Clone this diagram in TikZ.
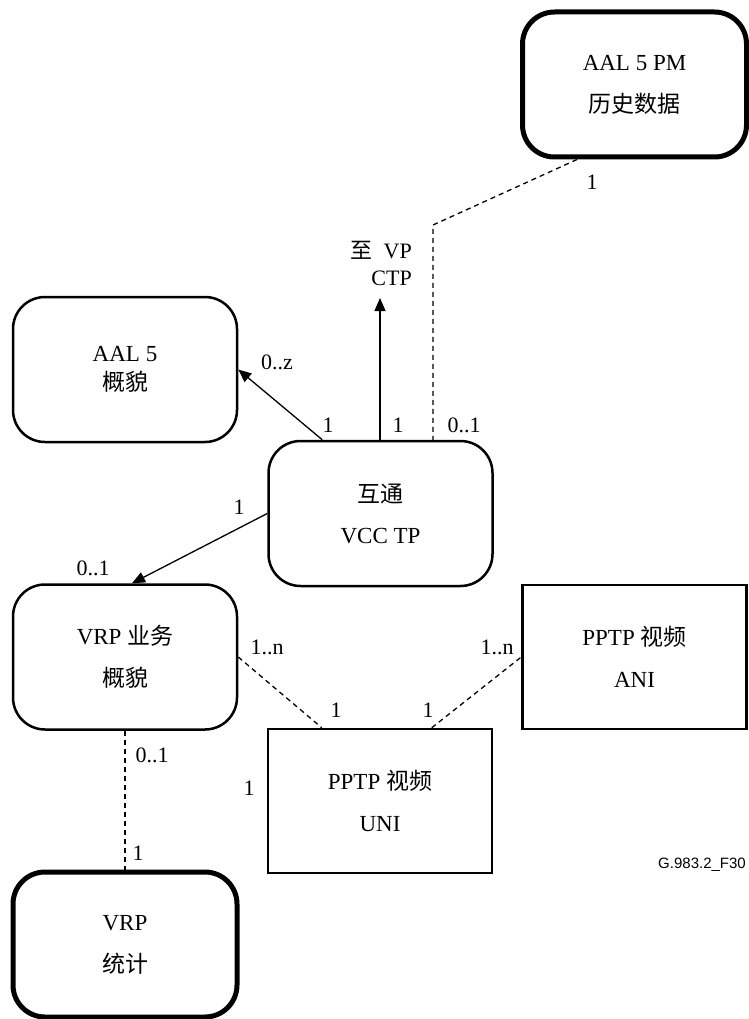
\documentclass[tikz,border=0pt]{standalone}
\usepackage{fontspec}
\setmainfont{Liberation Serif}
\setsansfont{Liberation Sans}
\newfontfamily\cjk{Noto Sans CJK SC}
\usetikzlibrary{arrows.meta,calc}
\begin{document}
\begin{tikzpicture}[x=1pt,y=-1pt,
  every node/.style={inner sep=0pt},
  boxtext/.style={font=\fontsize{23}{25}\selectfont, align=center},
  objbox/.style={boxtext, draw, line width=2.5pt, rounded corners=32pt,
    minimum width=224pt, minimum height=145pt},
  heavybox/.style={objbox, line width=5pt},
  plainbox/.style={boxtext, draw, line width=2.5pt,
    minimum width=224pt, minimum height=144pt},
  link/.style={line width=1.3pt},
  dlink/.style={line width=1.3pt, dash pattern=on 5pt off 4pt},
  tip/.style={-{Triangle[length=13pt,width=11pt]}},
  mult/.style={font=\fontsize{22}{25}\selectfont}]

\useasboundingbox (0,0) rectangle (748,1019);

% managed entities
\node[heavybox] (pm)    at (634.5,84.5) {AAL 5 PM\\[17pt]{\cjk 历史数据}};
\node[objbox]   (aal)   at (125,369.5)  {AAL 5\\[4pt]{\cjk 概貌}};
\node[objbox]   (vcc)   at (380.5,513.5){{\cjk 互通}\\[16pt]VCC TP};
\node[objbox]   (vrp)   at (125,657)    {VRP {\cjk 业务}\\[17pt]{\cjk 概貌}};
\node[plainbox] (ani)   at (634.5,657)  {PPTP {\cjk 视频}\\[17pt]ANI};
\node[plainbox] (uni)   at (380,801)    {PPTP {\cjk 视频}\\[17pt]UNI};
\node[heavybox] (stats) at (125,944.5)  {VRP\\[17pt]{\cjk 统计}};

% relationship end points
\coordinate (bend)  at (433,225);
\coordinate (vpend) at (380,298);

% relationships
\draw[dlink] ($(pm.south west)+(57,0)$) -- (bend) -- (bend |- vcc.north);
\draw[link,tip] (vpend |- vcc.north) -- (vpend);
\draw[link,tip] ($(vcc.north west)+(55,0)$) -- (aal.east);
\draw[link,tip] (vcc.west) -- ($(vrp.north)+(7,0)$);
\draw[dlink] (vrp.east) -- ($(uni.north west)+(55,0)$);
\draw[dlink] ($(uni.north west)+(165,0)$) -- (ani.west);
\draw[dlink] (vrp.south) -- (stats.north);

% multiplicities
\node[mult] (m1)  at (592,182) {1};
\node[mult, anchor=east, align=right] (vp) at (412,263) {{\cjk 至}\ \ VP\\[2pt]CTP};
\node[mult] (m2)  at (277,362) {0..z};
\node[mult] (m3)  at (328,425) {1};
\node[mult] (m4)  at (398,425) {1};
\node[mult] (m5)  at (464,425) {0..1};
\node[mult] (m6)  at (239,507) {1};
\node[mult] (m7)  at (93,568)  {0..1};
\node[mult] (m8)  at (267,647) {1..n};
\node[mult] (m9)  at (497,647) {1..n};
\node[mult] (m10) at (336,710) {1};
\node[mult] (m11) at (428,710) {1};
\node[mult] (m12) at (152,755) {0..1};
\node[mult] (m13) at (249,788) {1};
\node[mult] (m14) at (138,853) {1};

\node[font=\sffamily\fontsize{15}{18}\selectfont] (fig) at (702,865) {G.983.2\_F30};
\end{tikzpicture}
\end{document}
